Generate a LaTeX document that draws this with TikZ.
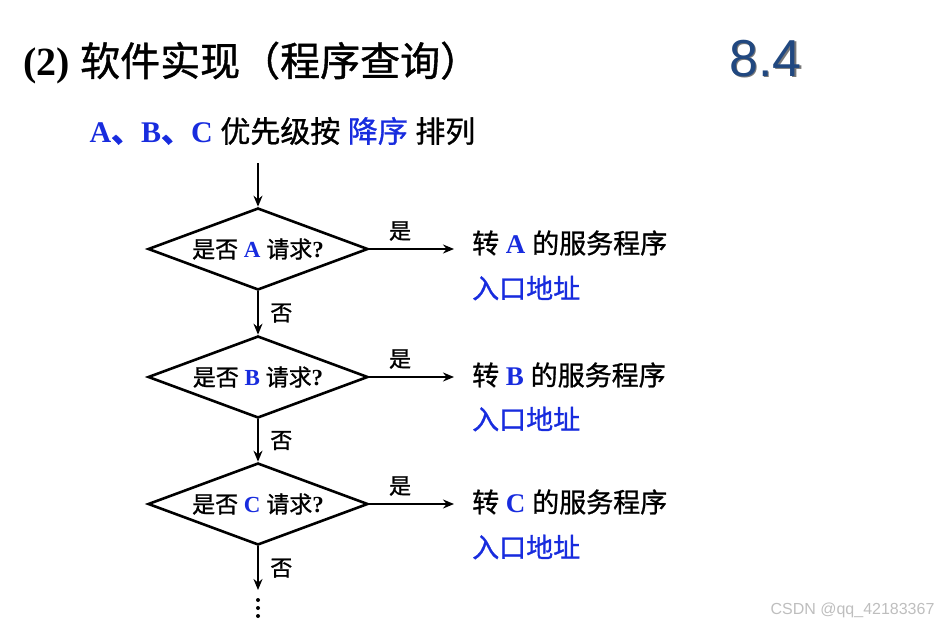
\documentclass[tikz,border=0pt]{standalone}
\usepackage{fontspec}
\setmainfont{Liberation Serif}
\newfontfamily\cjk[FakeBold=1]{Noto Sans CJK SC}
\newfontfamily\arialfont{Liberation Sans}
\usepackage{xcolor}
\definecolor{hdblue}{RGB}{24,44,222}
\definecolor{hdnavy}{RGB}{33,72,128}
\definecolor{hdshadow}{RGB}{120,120,120}
\definecolor{hdgray}{RGB}{190,190,190}
\usepackage{tikz}
\usetikzlibrary{arrows.meta, shapes.geometric}

\begin{document}
\begin{tikzpicture}[x=1pt, y=-1pt,
  decision/.style={diamond, draw, line width=2.6pt, aspect=2.68, minimum width=220pt, minimum height=82pt, inner sep=0pt, font=\fontsize{23}{25}\selectfont},
  flow/.style={line width=2pt, -{Stealth[length=11pt, width=9pt]}},
  lbl/.style={font=\cjk\fontsize{22}{24}\selectfont},
  target/.style={anchor=west, inner sep=0pt, font=\fontsize{27}{30}\selectfont}]
  \useasboundingbox (0,0) rectangle (942,626);

  % heading
  \node[anchor=west, font=\fontsize{40}{44}\selectfont] (title) at (20,63) {\textbf{(2)} {\cjk 软件实现（程序查询）}};
  \node[hdshadow, font=\arialfont\fontsize{52}{56}\selectfont] (numshadow) at (767,60) {8.4};
  \node[hdnavy, font=\arialfont\fontsize{52}{56}\selectfont] (num) at (765.5,58.5) {8.4};
  \node[anchor=west, font=\fontsize{30}{34}\selectfont] (sub) at (86,131) {\textbf{\color{hdblue}A{\cjk 、}B{\cjk 、}C} {\cjk 优先级按} {\cjk\color{hdblue}降序} {\cjk 排列}};

  % decisions
  \coordinate (start) at (258,163);
  \node[decision] (qa) at (258,249) {{\cjk 是否} \textbf{\color{hdblue}A} {\cjk 请求}\textbf{?}};
  \node[decision] (qb) at (258,377) {{\cjk 是否} \textbf{\color{hdblue}B} {\cjk 请求}\textbf{?}};
  \node[decision] (qc) at (258,504) {{\cjk 是否} \textbf{\color{hdblue}C} {\cjk 请求}\textbf{?}};
  \coordinate (more) at (258,590);

  % service routines
  \node[target] (ta) at (472,243) {{\cjk 转} \textbf{\color{hdblue}A} {\cjk 的服务程序}};
  \node[target, hdblue] (aa) at (472,288) {\cjk 入口地址};
  \node[target] (tb) at (472,375) {{\cjk 转} \textbf{\color{hdblue}B} {\cjk 的服务程序}};
  \node[target, hdblue] (ab) at (472,419) {\cjk 入口地址};
  \node[target] (tc) at (472,502) {{\cjk 转} \textbf{\color{hdblue}C} {\cjk 的服务程序}};
  \node[target, hdblue] (ac) at (472,547) {\cjk 入口地址};

  % arrows
  \draw[flow] (start) -- (qa.north);
  \draw[flow] (qa.south) -- node[lbl, right=8pt] {否} (qb.north);
  \draw[flow] (qb.south) -- node[lbl, right=8pt] {否} (qc.north);
  \draw[flow] (qc.south) -- node[lbl, right=8pt] {否} (more);
  \draw[flow, shorten >=18pt] (qa.east) -- node[lbl, above=4pt, pos=0.3] {是} (qa.east -| ta.west);
  \draw[flow, shorten >=18pt] (qb.east) -- node[lbl, above=4pt, pos=0.3] {是} (qb.east -| tb.west);
  \draw[flow, shorten >=18pt] (qc.east) -- node[lbl, above=4pt, pos=0.3] {是} (qc.east -| tc.west);

  % continuation dots
  \foreach \y in {600,608,616}
    \fill (258,\y) circle (2pt);

  \node[hdgray, anchor=east, font=\arialfont\fontsize{16}{18}\selectfont] (mark) at (938,610) {CSDN @qq\_42183367};
\end{tikzpicture}
\end{document}
